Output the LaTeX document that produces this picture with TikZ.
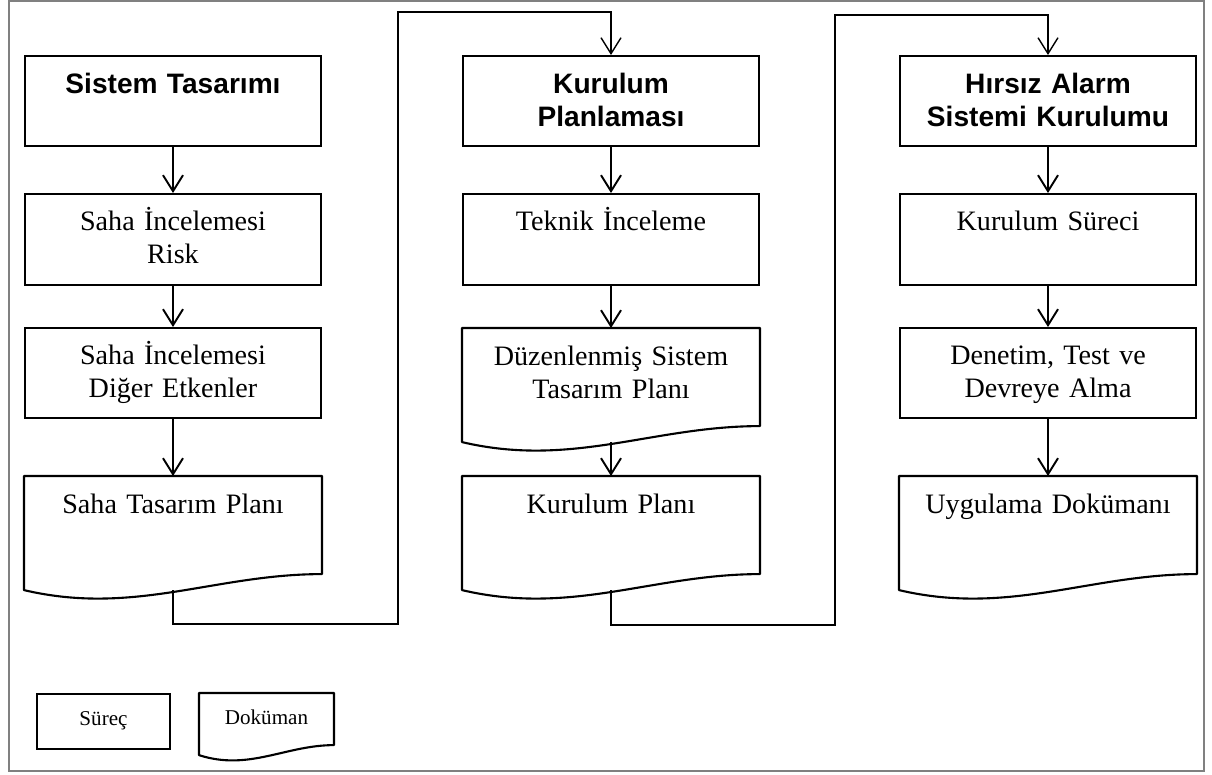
\documentclass[tikz,border=0pt]{standalone}
\usepackage{fontspec}
\setmainfont{Liberation Serif}
\newfontfamily\headfont{Liberation Sans}
\usetikzlibrary{calc,arrows.meta}

% outline of a document node, #2 = size of the wave
\newcommand{\docshape}[2]{%
  \draw[docline] (#1.south west) -- (#1.north west) -- (#1.north east)
    -- ($(#1.south east)+(0,-2*#2)$)
    .. controls ($(#1.south west)!0.64!(#1.south east)+(0,-2*#2)$)
    and ($(#1.south west)!0.37!(#1.south east)+(0,3.25*#2)$) .. (#1.south west) -- cycle;
}

\begin{document}
\begin{tikzpicture}[x=0.02cm,y=-0.02cm,
  procbox/.style={draw,line width=1.2pt,inner sep=0pt,anchor=north,text width=5.92cm,
    align=center,font=\fontsize{16}{18.8}\selectfont,text height=0.72cm},
  headbox/.style={procbox,font=\headfont\bfseries\fontsize{16}{18.8}\selectfont,
    text height=0.74cm,text depth=1.06cm},
  docbox/.style={procbox,draw=none},
  docline/.style={line width=1.2pt,line join=round},
  flowarrow/.style={line width=1.1pt,-{Straight Barb[length=0.32cm,width=0.4cm]}},
  linkarrow/.style={line width=0.8pt,-{Straight Barb[length=0.32cm,width=0.4cm]}}]
\useasboundingbox (0,0) rectangle (1212,774);
\draw[gray,line width=0.9pt] (9,1) rectangle (1204,771);

% first column
\node[headbox] (sistem) at (173,55) {Sistem Tasarımı};
\node[procbox,text depth=1.1cm] (risk) at (173,193) {Saha İncelemesi\\Risk};
\node[procbox,text depth=1.08cm] (etken) at (173,327) {Saha İncelemesi\\Diğer Etkenler};
\node[docbox,text depth=1.52cm] (sahaplan) at (173,476) {Saha Tasarım Planı};
\docshape{sahaplan}{8}

% second column
\node[headbox] (kurulum) at (611,55) {Kurulum\\Planlaması};
\node[procbox,text depth=1.1cm] (teknik) at (611,193) {Teknik İnceleme};
\node[docbox,text depth=1.52cm] (duzen) at (611,328) {Düzenlenmiş Sistem\\Tasarım Planı};
\docshape{duzen}{8}
\node[docbox,text depth=1.52cm] (kplan) at (611,476) {Kurulum Planı};
\docshape{kplan}{8}

% third column
\node[headbox] (hirsiz) at (1048,55) {Hırsız Alarm\\Sistemi Kurulumu};
\node[procbox,text depth=1.1cm] (ksurec) at (1048,193) {Kurulum Süreci};
\node[procbox,text depth=1.08cm] (denetim) at (1048,327) {Denetim, Test ve\\Devreye Alma};
\node[docbox,text depth=1.52cm] (uygulama) at (1048,476) {Uygulama Dokümanı};
\docshape{uygulama}{8}

% legend
\node[procbox,text width=2.66cm,font=\fontsize{12}{14}\selectfont,
  text height=0.62cm,text depth=0.48cm] (surec) at (103.5,693) {Süreç};
\node[docbox,text width=2.66cm,font=\fontsize{12}{14}\selectfont,
  text height=0.6cm,text depth=0.6cm] (dokuman) at (266.5,693) {Doküman};
\docshape{dokuman}{5}

\draw[flowarrow] (sistem) -- (risk);
\draw[flowarrow] (risk) -- (etken);
\draw[flowarrow] (etken) -- (sahaplan);
\draw[flowarrow] (kurulum) -- (teknik);
\draw[flowarrow] (teknik) -- (duzen);
\draw[flowarrow] (duzen) -- (kplan);
\draw[flowarrow] (hirsiz) -- (ksurec);
\draw[flowarrow] (ksurec) -- (denetim);
\draw[flowarrow] (denetim) -- (uygulama);

\coordinate (bend1) at (398,12);
\coordinate (bend2) at (835,15);
\draw[linkarrow] (sahaplan.south) -- ++(0,34) -| (bend1) -| (kurulum.north);
\draw[linkarrow] (kplan.south) -- ++(0,35) -| (bend2) -| (hirsiz.north);
\end{tikzpicture}
\end{document}
